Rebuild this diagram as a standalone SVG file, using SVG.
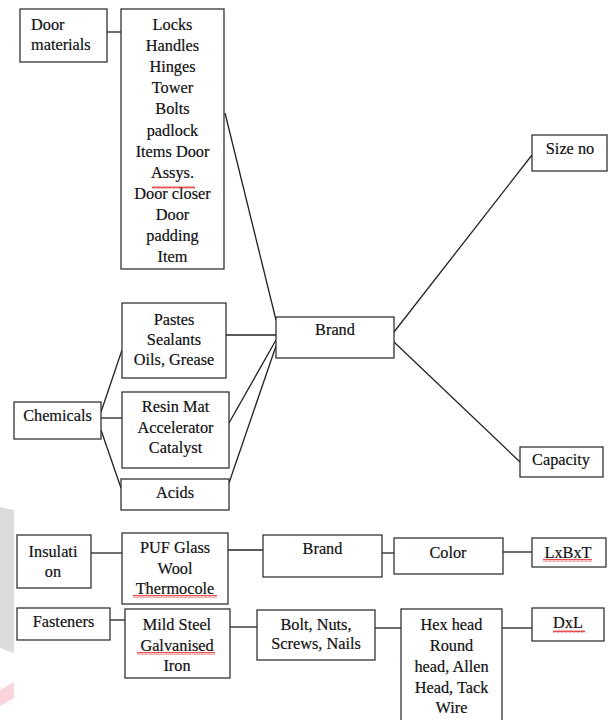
<svg xmlns="http://www.w3.org/2000/svg" width="609" height="720" viewBox="0 0 609 720">
<style>
.box{fill:#fff;stroke:#333;stroke-width:1.3}
.ln{fill:none;stroke:#222;stroke-width:1.3}
text{font-family:"Liberation Serif","Times New Roman",serif;font-size:16.3px;fill:#111;stroke:#111;stroke-width:0.2;text-anchor:middle}
.l{text-anchor:start}
</style>
<defs>
<pattern id="sq" width="4" height="3" patternUnits="userSpaceOnUse">
<path d="M0,2.5 L1,0.5 L2,2.5 L3,0.5 L4,2.5" fill="none" stroke="#d22" stroke-width="0.8"/>
</pattern>
</defs>
<rect width="609" height="720" fill="#fff"/>
<polygon points="0,507 14,510 14,653 0,648" fill="#dcdcdc"/>
<polygon points="0,690 14,682 14,698 0,706" fill="#fbd3da"/>
<g id="connectors">
<path class="ln" d="M107,32 H121"/>
<path class="ln" d="M225,113 L276,320"/>
<path class="ln" d="M101,412 L122,350"/>
<path class="ln" d="M101,418 H122"/>
<path class="ln" d="M101,430 L121,488"/>
<path class="ln" d="M226,335 H276"/>
<path class="ln" d="M229,423 L276,340"/>
<path class="ln" d="M229,483 L276,346"/>
<path class="ln" d="M394,332 L532,155"/>
<path class="ln" d="M394,342 L520,462"/>
<path class="ln" d="M91,553 H122"/>
<path class="ln" d="M228,550 H263"/>
<path class="ln" d="M382,553 H394"/>
<path class="ln" d="M503,552 H532"/>
<path class="ln" d="M110,620 H125"/>
<path class="ln" d="M230,627 H257"/>
<path class="ln" d="M375,628 H401"/>
<path class="ln" d="M502,628 H532"/>
</g>
<g id="door-materials"><rect class="box" x="20" y="9" width="87" height="53"/><text class="l" x="31" y="30">Door</text><text class="l" x="31" y="50">materials</text></g>
<g id="door-items"><rect class="box" x="121" y="9" width="103" height="260"/>
<text x="172.5" y="30">Locks</text><text x="172.5" y="51">Handles</text><text x="172.5" y="72">Hinges</text><text x="172.5" y="93">Tower</text><text x="172.5" y="114">Bolts</text><text x="172.5" y="135.5">padlock</text><text x="172.5" y="156.5">Items Door</text><text x="172.5" y="177.5">Assys.</text><text x="172.5" y="199">Door closer</text><text x="172.5" y="220">Door</text><text x="172.5" y="241">padding</text><text x="172.5" y="262">Item</text>
</g>
<g id="pastes"><rect class="box" x="122" y="303" width="104" height="75"/><text x="174" y="325">Pastes</text><text x="174" y="345">Sealants</text><text x="174" y="365">Oils, Grease</text></g>
<g id="resin"><rect class="box" x="122" y="392" width="107" height="76"/><text x="175.5" y="412">Resin Mat</text><text x="175.5" y="433">Accelerator</text><text x="175.5" y="453">Catalyst</text></g>
<g id="acids"><rect class="box" x="121" y="479" width="108" height="31"/><text x="175" y="498">Acids</text></g>
<g id="chemicals"><rect class="box" x="14" y="402" width="87" height="37"/><text x="57.5" y="421">Chemicals</text></g>
<g id="brand"><rect class="box" x="276" y="317" width="118" height="41"/><text x="335" y="335">Brand</text></g>
<g id="size-no"><rect class="box" x="532" y="135" width="75" height="36"/><text x="570" y="154">Size no</text></g>
<g id="capacity"><rect class="box" x="520" y="447" width="83" height="30"/><text x="561" y="465">Capacity</text></g>
<g id="insulation"><rect class="box" x="17" y="535" width="74" height="53"/><text x="53" y="557">Insulati</text><text x="53" y="577">on</text></g>
<g id="puf"><rect class="box" x="122" y="533" width="106" height="71"/><text x="175" y="553">PUF Glass</text><text x="175" y="574">Wool</text><text x="175" y="594">Thermocole</text></g>
<g id="brand2"><rect class="box" x="263" y="535" width="119" height="42"/><text x="322.5" y="554">Brand</text></g>
<g id="color"><rect class="box" x="394" y="538" width="109" height="36"/><text x="448" y="558">Color</text></g>
<g id="lxbxt"><rect class="box" x="532" y="538" width="74" height="29"/><text x="568" y="558">LxBxT</text></g>
<g id="fasteners"><rect class="box" x="17" y="608" width="93" height="32"/><text x="63.5" y="627">Fasteners</text></g>
<g id="mild-steel"><rect class="box" x="125" y="609" width="105" height="69"/><text x="177" y="630">Mild Steel</text><text x="177" y="651">Galvanised</text><text x="177" y="671">Iron</text></g>
<g id="bolt"><rect class="box" x="257" y="610" width="118" height="50"/><text x="316" y="630">Bolt, Nuts,</text><text x="316" y="649">Screws, Nails</text></g>
<g id="hex"><rect class="box" x="401" y="609" width="101" height="115"/><text x="451.5" y="630">Hex head</text><text x="451.5" y="651">Round</text><text x="451.5" y="672">head, Allen</text><text x="451.5" y="693">Head, Tack</text><text x="451.5" y="713">Wire</text></g>
<g id="dxl"><rect class="box" x="532" y="608" width="72" height="33"/><text x="568" y="628">DxL</text></g>
<g id="spellcheck">
<rect x="152" y="186" width="43" height="3" fill="url(#sq)"/>
<rect x="133" y="595" width="84" height="3" fill="url(#sq)"/>
<rect x="137" y="652" width="78" height="3" fill="url(#sq)"/>
<rect x="543" y="559" width="49" height="3" fill="url(#sq)"/>
<rect x="553" y="630" width="32" height="3" fill="url(#sq)"/>
</g>
</svg>
